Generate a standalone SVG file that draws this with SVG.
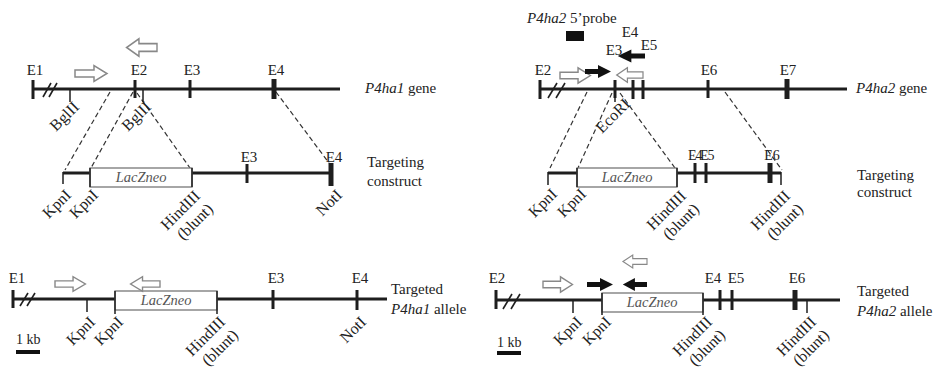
<svg xmlns="http://www.w3.org/2000/svg" xmlns:xlink="http://www.w3.org/1999/xlink" width="937" height="376" viewBox="0 0 937 376">
<style>
text{font-family:"Liberation Serif","Times New Roman",serif;font-size:15px;fill:#222}
.c{text-anchor:middle}
.r{text-anchor:end;font-size:16px}
.it{font-style:italic}
.ln{stroke:#1e1e1e;stroke-width:3;fill:none}
.tk{stroke:#1e1e1e;stroke-width:3}
.tkb{stroke:#1e1e1e;stroke-width:5}
.st{stroke:#1e1e1e;stroke-width:1.5}
.hs{stroke:#1e1e1e;stroke-width:1.6}
.ds{stroke:#333;stroke-width:1.2;stroke-dasharray:5 3;fill:none}
.box{fill:#fff;stroke:#777;stroke-width:1.3}
.lz{font-style:italic;font-size:14.5px;fill:#555;text-anchor:middle}
.oa{fill:#fff;stroke:#888;stroke-width:1.5}
.fa{fill:#111}
</style>
<defs>
<path id="oarr" d="M0,-3.5 H19 V-8 L32,0 L19,8 V3.5 H0 Z"/>
<path id="farr" d="M0,-2.5 H13 V-6.5 L26,0 L13,6.5 V2.5 H0 Z"/>
</defs>

<g id="connectors">
<line class="ds" x1="110" y1="92" x2="65" y2="170"/>
<line class="ds" x1="133" y1="92" x2="91" y2="168"/>
<line class="ds" x1="137" y1="93" x2="190" y2="168"/>
<line class="ds" x1="276" y1="92" x2="329" y2="163"/>
<line class="ds" x1="587" y1="92" x2="550" y2="168"/>
<line class="ds" x1="612" y1="93" x2="578" y2="168"/>
<line class="ds" x1="620" y1="93" x2="675" y2="168"/>
<line class="ds" x1="725" y1="92" x2="782" y2="170"/>
</g>

<g id="p4ha1-gene">
<line class="ln" x1="33" y1="89" x2="340" y2="89"/>
<line class="tk" x1="33" y1="80" x2="33" y2="99"/>
<line class="hs" x1="43" y1="97" x2="51" y2="83"/>
<line class="hs" x1="49" y1="97" x2="57" y2="83"/>
<line class="tk" x1="135" y1="80" x2="135" y2="98"/>
<line class="tk" x1="190" y1="80" x2="190" y2="98"/>
<line class="tkb" x1="274" y1="79" x2="274" y2="99"/>
<line class="st" x1="70" y1="89" x2="70" y2="102"/>
<line class="st" x1="143" y1="89" x2="143" y2="102"/>
<text class="c" x="35" y="75">E1</text>
<text class="c" x="139" y="75">E2</text>
<text class="c" x="192" y="75">E3</text>
<text class="c" x="276" y="75">E4</text>
<use href="#oarr" class="oa" transform="translate(75,73.5)"/>
<use href="#oarr" class="oa" transform="translate(157,47.5) scale(-0.95,1.1)"/>
<text class="r" transform="translate(80,108) rotate(-45)">BglII</text>
<text class="r" transform="translate(152,108) rotate(-45)">BglII</text>
<text x="365" y="93"><tspan class="it">P4ha1</tspan> gene</text>
</g>

<g id="p4ha1-construct">
<line class="ln" x1="63" y1="173" x2="331" y2="173"/>
<line class="st" x1="63" y1="172" x2="63" y2="184"/>
<rect class="box" x="90" y="168" width="102" height="19"/>
<text class="lz" x="141" y="182">LacZneo</text>
<line class="st" x1="90" y1="168" x2="90" y2="187"/>
<line class="st" x1="192" y1="168" x2="192" y2="187"/>
<line class="tk" x1="247" y1="164" x2="247" y2="183"/>
<line class="tkb" x1="331" y1="163" x2="331" y2="186"/>
<text class="c" x="249" y="162">E3</text>
<text class="c" x="334" y="162">E4</text>
<text class="r" transform="translate(72,196) rotate(-45)">KpnI</text>
<text class="r" transform="translate(99,196) rotate(-45)">KpnI</text>
<text class="r" transform="translate(201,197) rotate(-45)">HindIII<tspan x="0" dy="1.15em">(blunt)</tspan></text>
<text class="r" transform="translate(343,196) rotate(-45)">NotI</text>
<text x="367" y="167">Targeting</text>
<text x="367" y="186">construct</text>
</g>

<g id="p4ha1-allele">
<line class="ln" x1="13" y1="299" x2="387" y2="299"/>
<line class="tk" x1="13" y1="290" x2="13" y2="308"/>
<line class="hs" x1="20" y1="306" x2="28" y2="293"/>
<line class="hs" x1="27" y1="306" x2="35" y2="293"/>
<line class="st" x1="87" y1="299" x2="87" y2="312"/>
<rect class="box" x="115" y="291" width="102" height="19"/>
<text class="lz" x="166" y="305">LacZneo</text>
<line class="st" x1="115" y1="291" x2="115" y2="314"/>
<line class="st" x1="217" y1="291" x2="217" y2="314"/>
<line class="tk" x1="273" y1="290" x2="273" y2="309"/>
<line class="tk" x1="357" y1="290" x2="357" y2="310"/>
<text class="c" x="17" y="283">E1</text>
<text class="c" x="276" y="283">E3</text>
<text class="c" x="360" y="283">E4</text>
<use href="#oarr" class="oa" transform="translate(55,284) scale(0.95,0.9)"/>
<use href="#oarr" class="oa" transform="translate(160,284) scale(-0.92,0.9)"/>
<text class="r" transform="translate(96,323) rotate(-45)">KpnI</text>
<text class="r" transform="translate(124,323) rotate(-45)">KpnI</text>
<text class="r" transform="translate(226,323) rotate(-45)">HindIII<tspan x="0" dy="1.15em">(blunt)</tspan></text>
<text class="r" transform="translate(367,323) rotate(-45)">NotI</text>
<text x="391" y="294">Targeted</text>
<text x="391" y="314"><tspan class="it">P4ha1</tspan> allele</text>
<text x="16" y="344" style="font-size:14px">1 kb</text>
<line x1="16" y1="352" x2="40" y2="352" stroke="#111" stroke-width="4"/>
</g>

<g id="p4ha2-gene">
<line class="ln" x1="540" y1="89" x2="847" y2="89"/>
<line class="tk" x1="540" y1="80" x2="540" y2="99"/>
<line class="hs" x1="548" y1="98" x2="557" y2="83"/>
<line class="hs" x1="556" y1="98" x2="565" y2="83"/>
<line class="tk" x1="615" y1="80" x2="615" y2="98"/>
<line class="st" x1="615" y1="89" x2="615" y2="102"/>
<line class="tk" x1="633" y1="80" x2="633" y2="99"/>
<line class="tk" x1="643" y1="80" x2="643" y2="99"/>
<line class="tk" x1="708" y1="80" x2="708" y2="98"/>
<line class="tkb" x1="787" y1="79" x2="787" y2="99"/>
<text class="c" x="543" y="75">E2</text>
<text class="c" x="614" y="55">E3</text>
<text class="c" x="630" y="37">E4</text>
<text class="c" x="649" y="50">E5</text>
<text class="c" x="709" y="75">E6</text>
<text class="c" x="788" y="75">E7</text>
<use href="#oarr" class="oa" transform="translate(560,75.5) scale(0.95,0.95)"/>
<use href="#farr" class="fa" transform="translate(585,71.5)"/>
<use href="#oarr" class="oa" transform="translate(643,75) scale(-0.82,0.9)"/>
<use href="#farr" class="fa" transform="translate(645,56) scale(-1.05,1)"/>
<text x="527" y="23"><tspan class="it">P4ha2</tspan> 5’probe</text>
<rect x="566" y="31" width="18" height="10" fill="#111"/>
<text class="r" transform="translate(631,105) rotate(-45)">EcoRI</text>
<text x="856" y="93"><tspan class="it">P4ha2</tspan> gene</text>
</g>

<g id="p4ha2-construct">
<line class="ln" x1="548" y1="173" x2="781" y2="173"/>
<line class="st" x1="548" y1="172" x2="548" y2="185"/>
<rect class="box" x="577" y="168" width="100" height="19"/>
<text class="lz" x="627" y="182">LacZneo</text>
<line class="st" x1="577" y1="168" x2="577" y2="187"/>
<line class="st" x1="677" y1="168" x2="677" y2="187"/>
<line class="tk" x1="695" y1="163" x2="695" y2="183"/>
<line class="tk" x1="706" y1="163" x2="706" y2="183"/>
<line class="tkb" x1="770" y1="163" x2="770" y2="183"/>
<line class="st" x1="781" y1="172" x2="781" y2="185"/>
<text x="688" y="160" style="font-size:14px;letter-spacing:-1px">E4</text>
<text x="700" y="160" style="font-size:14px;letter-spacing:-1px">E5</text>
<text class="c" x="772" y="160" style="font-size:14px">E6</text>
<text class="r" transform="translate(558,195) rotate(-45)">KpnI</text>
<text class="r" transform="translate(587,195) rotate(-45)">KpnI</text>
<text class="r" transform="translate(687,197) rotate(-45)">HindIII<tspan x="0" dy="1.15em">(blunt)</tspan></text>
<text class="r" transform="translate(791,197) rotate(-45)">HindIII<tspan x="0" dy="1.15em">(blunt)</tspan></text>
<text x="857" y="180">Targeting</text>
<text x="857" y="197">construct</text>
</g>

<g id="p4ha2-allele">
<line class="ln" x1="496" y1="300" x2="840" y2="300"/>
<line class="tk" x1="496" y1="290" x2="496" y2="309"/>
<line class="hs" x1="503" y1="309" x2="512" y2="294"/>
<line class="hs" x1="511" y1="309" x2="520" y2="294"/>
<line class="st" x1="573" y1="300" x2="573" y2="313"/>
<rect class="box" x="602" y="293" width="101" height="19"/>
<text class="lz" x="652" y="307">LacZneo</text>
<line class="st" x1="602" y1="293" x2="602" y2="315"/>
<line class="st" x1="703" y1="293" x2="703" y2="315"/>
<line class="tk" x1="720" y1="290" x2="720" y2="310"/>
<line class="tk" x1="732" y1="290" x2="732" y2="310"/>
<line class="tkb" x1="795" y1="290" x2="795" y2="310"/>
<line class="st" x1="807" y1="300" x2="807" y2="313"/>
<text class="c" x="497" y="283">E2</text>
<text class="c" x="713" y="283">E4</text>
<text class="c" x="736" y="283">E5</text>
<text class="c" x="797" y="283">E6</text>
<use href="#oarr" class="oa" transform="translate(543,284.5) scale(0.92,0.95)"/>
<use href="#farr" class="fa" transform="translate(587,284.5)"/>
<use href="#farr" class="fa" transform="translate(647,284.5) scale(-0.93,1)"/>
<use href="#oarr" class="oa" transform="translate(647,261.5) scale(-0.75,0.8)"/>
<text class="r" transform="translate(583,323) rotate(-45)">KpnI</text>
<text class="r" transform="translate(612,323) rotate(-45)">KpnI</text>
<text class="r" transform="translate(713,323) rotate(-45)">HindIII<tspan x="0" dy="1.15em">(blunt)</tspan></text>
<text class="r" transform="translate(817,323) rotate(-45)">HindIII<tspan x="0" dy="1.15em">(blunt)</tspan></text>
<text x="857" y="296">Targeted</text>
<text x="857" y="316"><tspan class="it">P4ha2</tspan> allele</text>
<text x="497" y="347" style="font-size:14px">1 kb</text>
<line x1="497" y1="353" x2="521" y2="353" stroke="#111" stroke-width="4"/>
</g>
</svg>
